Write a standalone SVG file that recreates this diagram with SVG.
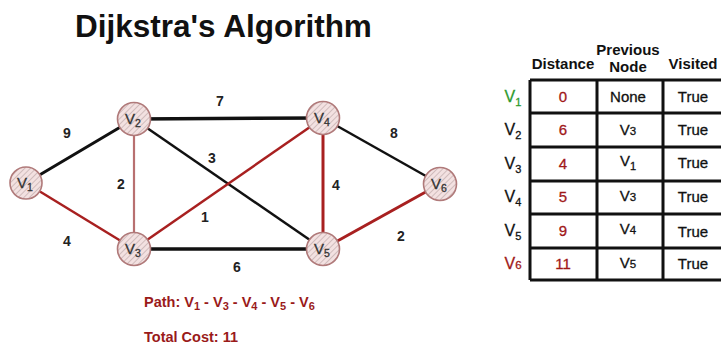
<svg xmlns="http://www.w3.org/2000/svg" width="721" height="344" viewBox="0 0 721 344">
<style>
.t{font-family:"Liberation Sans",Arial,sans-serif}
.title{font-size:31.5px;font-weight:bold;fill:#111}
.el{font-size:14px;font-weight:bold;fill:#222;text-anchor:middle}
.nl{font-size:15px;fill:#333;text-anchor:middle;stroke:#333;stroke-width:0.3}
.hd{font-size:15px;font-weight:bold;fill:#111;text-anchor:middle}
.cell{font-size:15px;fill:#111;text-anchor:middle;stroke:#111;stroke-width:0.3}
.dist{font-size:15px;fill:#a01818;text-anchor:middle;stroke:#a01818;stroke-width:0.3}
.rl{font-size:16px;fill:#111;text-anchor:middle;stroke:#111;stroke-width:0.3}
.path{font-size:14.5px;font-weight:bold;fill:#9a1a1a}
.blk{stroke:#111;fill:none}
.red{stroke:#a82020;fill:none}
.node{fill:url(#hatch);stroke:#b07a7a;stroke-width:1.6}
.grid{stroke:#111;stroke-width:3;fill:none}
</style>
<defs>
<pattern id="hatch" patternUnits="userSpaceOnUse" width="4" height="4" patternTransform="rotate(45)">
<rect width="4" height="4" fill="#f3e1e1"/>
<line x1="0" y1="0" x2="0" y2="4" stroke="#b9a4a4" stroke-width="1.2"/>
</pattern>
</defs>
<text class="t title" x="75" y="37">Dijkstra's Algorithm</text>
<g id="connectors">
<line class="blk" x1="26" y1="183" x2="134" y2="119" stroke-width="3"/>
<line class="red" x1="26" y1="183" x2="134" y2="249" stroke-width="2.5"/>
<line class="blk" x1="134" y1="119" x2="323" y2="118" stroke-width="3.5"/>
<line x1="134" y1="119" x2="134" y2="249" stroke="#b87070" stroke-width="2.2"/>
<line class="blk" x1="134" y1="119" x2="323" y2="249" stroke-width="2.5"/>
<line class="red" x1="134" y1="249" x2="323" y2="118" stroke-width="2.5"/>
<line class="blk" x1="134" y1="249" x2="323" y2="249" stroke-width="3.5"/>
<line class="red" x1="323" y1="118" x2="323" y2="249" stroke-width="3"/>
<line class="blk" x1="323" y1="118" x2="440" y2="184" stroke-width="2.5"/>
<line class="red" x1="323" y1="249" x2="440" y2="184" stroke-width="3"/>
<text class="t el" x="67" y="138">9</text>
<text class="t el" x="220" y="106">7</text>
<text class="t el" x="212" y="163">3</text>
<text class="t el" x="121" y="189">2</text>
<text class="t el" x="67" y="246">4</text>
<text class="t el" x="205" y="222">1</text>
<text class="t el" x="237" y="272">6</text>
<text class="t el" x="336" y="190">4</text>
<text class="t el" x="394" y="138">8</text>
<text class="t el" x="401" y="241">2</text>
</g>
<g id="V1"><circle class="node" cx="26" cy="183" r="16"/><text class="t nl" x="25" y="188">V<tspan font-size="10.5" dy="3">1</tspan></text></g>
<g id="V2"><circle class="node" cx="134" cy="119" r="16.5"/><text class="t nl" x="133" y="124">V<tspan font-size="10.5" dy="3">2</tspan></text></g>
<g id="V3"><circle class="node" cx="134" cy="249" r="16.5"/><text class="t nl" x="133" y="254">V<tspan font-size="10.5" dy="3">3</tspan></text></g>
<g id="V4"><circle class="node" cx="323" cy="118" r="16.5"/><text class="t nl" x="322" y="123">V<tspan font-size="10.5" dy="3">4</tspan></text></g>
<g id="V5"><circle class="node" cx="323" cy="249" r="16.5"/><text class="t nl" x="322" y="254">V<tspan font-size="10.5" dy="3">5</tspan></text></g>
<g id="V6"><circle class="node" cx="440" cy="184" r="16.5"/><text class="t nl" x="439" y="189">V<tspan font-size="10.5" dy="3">6</tspan></text></g>
<g id="table">
<text class="t hd" x="563" y="69">Distance</text>
<text class="t hd" x="628" y="55">Previous</text>
<text class="t hd" x="628" y="72">Node</text>
<text class="t hd" x="693" y="69">Visited</text>
<path class="grid" d="M530 80 H730 M530 113 H730 M530 147 H730 M530 181 H730 M530 214 H730 M530 248 H730 M530 280 H730 M530 80 V280 M597 80 V280 M663 80 V280"/>
<text class="t rl" x="513" y="102" style="fill:#2e9a2e;stroke:#2e9a2e">V<tspan font-size="11" dy="4">1</tspan></text>
<text class="t rl" x="513" y="135">V<tspan font-size="11" dy="4">2</tspan></text>
<text class="t rl" x="513" y="169">V<tspan font-size="11" dy="4">3</tspan></text>
<text class="t rl" x="513" y="202">V<tspan font-size="11" dy="4">4</tspan></text>
<text class="t rl" x="513" y="236">V<tspan font-size="11" dy="4">5</tspan></text>
<text class="t rl" x="513" y="269" style="fill:#a01818;stroke:#a01818">V<tspan font-size="11.5">6</tspan></text>
<text class="t dist" x="563" y="102">0</text>
<text class="t dist" x="563" y="135">6</text>
<text class="t dist" x="563" y="169">4</text>
<text class="t dist" x="563" y="202">5</text>
<text class="t dist" x="563" y="236">9</text>
<text class="t dist" x="563" y="269">11</text>
<text class="t cell" x="628" y="102">None</text>
<text class="t cell" x="628" y="135">V<tspan font-size="11.5">3</tspan></text>
<text class="t cell" x="628" y="166">V<tspan font-size="11" dy="4">1</tspan></text>
<text class="t cell" x="628" y="201">V<tspan font-size="11.5">3</tspan></text>
<text class="t cell" x="628" y="234">V<tspan font-size="11.5">4</tspan></text>
<text class="t cell" x="628" y="268">V<tspan font-size="11.5">5</tspan></text>
<text class="t cell" x="693" y="102">True</text>
<text class="t cell" x="693" y="135">True</text>
<text class="t cell" x="693" y="168">True</text>
<text class="t cell" x="693" y="202">True</text>
<text class="t cell" x="693" y="237">True</text>
<text class="t cell" x="693" y="269">True</text>
</g>
<text class="t path" x="144" y="307">Path: V<tspan font-size="11" dy="3">1</tspan><tspan dy="-3"> - V</tspan><tspan font-size="11" dy="3">3</tspan><tspan dy="-3"> - V</tspan><tspan font-size="11" dy="3">4</tspan><tspan dy="-3"> - V</tspan><tspan font-size="11" dy="3">5</tspan><tspan dy="-3"> - V</tspan><tspan font-size="11" dy="3">6</tspan></text>
<text class="t path" x="144" y="342">Total Cost: 11</text>
</svg>
